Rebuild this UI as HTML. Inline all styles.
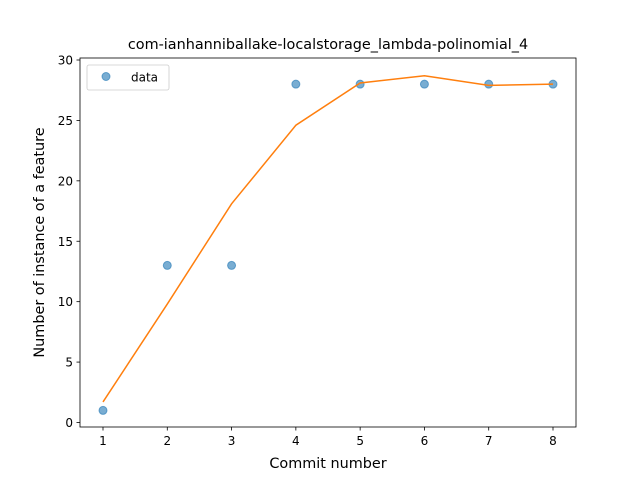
<!DOCTYPE html>
<html><head><meta charset="utf-8"><style>
body{margin:0;background:#fff;}
svg text{font-family:"DejaVu Sans","Liberation Sans",sans-serif;fill:#000;}
</style></head><body>
<svg id="chart" width="640" height="480" xmlns="http://www.w3.org/2000/svg">
<rect width="640" height="480" fill="#fff"/>
<text x="328" y="49" font-size="14.4" text-anchor="middle">com-ianhanniballake-localstorage_lambda-polinomial_4</text>
<g id="marks"></g>
<rect x="80" y="58" width="496" height="369" fill="none" stroke="#000" stroke-width="0.8"/>
<g id="xt"></g><g id="yt"></g>
<text x="328" y="468" font-size="14.4" text-anchor="middle">Commit number</text>
<text transform="translate(44,242.5) rotate(-90)" font-size="14.4" text-anchor="middle">Number of instance of a feature</text>
<g>
<rect x="87" y="65" width="82" height="25" rx="2" fill="#fff" stroke="#ccc" stroke-width="0.8"/>
<circle cx="106" cy="76.5" r="4" fill="#1f77b4" fill-opacity="0.6" stroke="#1f77b4" stroke-opacity="0.6"/>
<text x="131" y="81.5" font-size="12">data</text>
</g>
</svg>
<script>
const commits=[1,2,3,4,5,6,7,8];
const dataValues=[1,13,13,28,28,28,28,28];
const fitValues=[1.7,9.8,18.1,24.6,28.1,28.7,27.9,28.0];
const xTicks=[1,2,3,4,5,6,7,8];
const yTicks=[0,5,10,15,20,25,30];
const NS="http://www.w3.org/2000/svg";
function sx(v){return 103+(v-1)*(553-103)/7;}
function sy(v){return 422.5-v*(422.5-60)/30;}
const marks=document.getElementById('marks');
let d=commits.map((c,i)=>(i?'L':'M')+sx(c)+','+sy(fitValues[i])).join(' ');
const line=document.createElementNS(NS,'path');
line.setAttribute('d',d);line.setAttribute('fill','none');line.setAttribute('stroke','#ff7f0e');line.setAttribute('stroke-width','1.5');


commits.forEach((c,i)=>{
const p=document.createElementNS(NS,'circle');
p.setAttribute('cx',sx(c));p.setAttribute('cy',sy(dataValues[i]));p.setAttribute('r',4);
p.setAttribute('fill','#1f77b4');p.setAttribute('fill-opacity','0.6');p.setAttribute('stroke','#1f77b4');p.setAttribute('stroke-opacity','0.6');


marks.appendChild(p);
});
marks.appendChild(line);
const xt=document.getElementById('xt');
xTicks.forEach(t=>{
const l=document.createElementNS(NS,'line');
l.setAttribute('x1',sx(t));l.setAttribute('x2',sx(t));l.setAttribute('y1',427);l.setAttribute('y2',430.5);l.setAttribute('stroke','#000');l.setAttribute('stroke-width','0.8');


xt.appendChild(l);
const tx=document.createElementNS(NS,'text');
tx.setAttribute('x',sx(t));tx.setAttribute('y',445);tx.setAttribute('font-size','12');tx.setAttribute('text-anchor','middle');tx.textContent=t;


xt.appendChild(tx);
});
const yt=document.getElementById('yt');
yTicks.forEach(t=>{
const l=document.createElementNS(NS,'line');
l.setAttribute('x1',76.5);l.setAttribute('x2',80);l.setAttribute('y1',sy(t));l.setAttribute('y2',sy(t));l.setAttribute('stroke','#000');l.setAttribute('stroke-width','0.8');


yt.appendChild(l);
const tx=document.createElementNS(NS,'text');
tx.setAttribute('x',73);tx.setAttribute('y',sy(t)+4.5);tx.setAttribute('font-size','12');tx.setAttribute('text-anchor','end');tx.textContent=t;


yt.appendChild(tx);
});
</script>
</body></html>
